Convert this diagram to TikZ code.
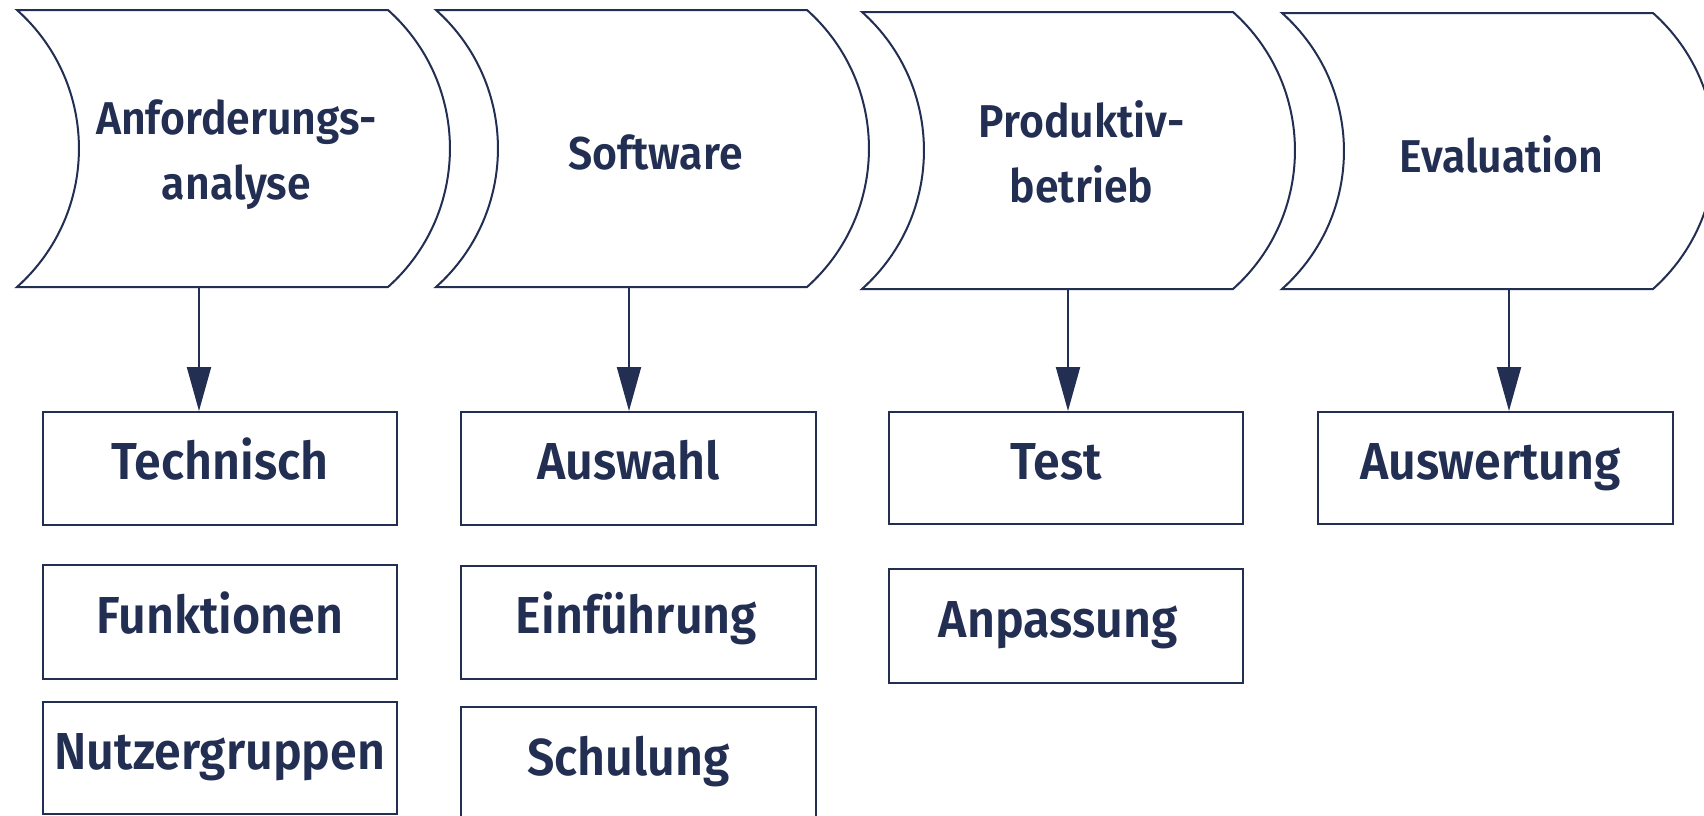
\documentclass[tikz,border=0pt]{standalone}
\usepackage{fontspec}
\setmainfont{Fira Sans SemiBold}[FakeStretch=0.93]
\usetikzlibrary{arrows.meta}
\definecolor{navy}{RGB}{34,46,82}
\newcommand\chevpath[3]{\draw[chevline] (#1,#2) -- (#1+371,#2) .. controls (#1+453.6,#2+73.8) and (#1+453.6,#3-73.8) .. (#1+371,#3) -- (#1,#3) .. controls (#1+82.6,#3-73.8) and (#1+82.6,#2+73.8) .. (#1,#2) -- cycle;}
\begin{document}
\begin{tikzpicture}[x=1pt,y=-1pt,
  every node/.style={text=navy},
  chevline/.style={draw=navy,line width=2pt,line join=miter},
  chevtext/.style={font=\fontsize{46}{65}\selectfont,align=center,inner sep=0pt},
  box/.style={draw=navy,line width=2pt,inner sep=0pt,font=\fontsize{52}{60}\selectfont,text height=36pt,text depth=14pt},
  lshift/.style={execute at end node={\hspace*{#1}}},
  arr/.style={draw=navy,line width=2pt,-{Triangle[length=44pt,width=24pt]}}]
\path[use as bounding box,fill=white] (0,0) rectangle (1704,815);
% chevrons
\chevpath{17}{10}{287}
\chevpath{436}{10}{287}
\chevpath{862}{12}{289}
\chevpath{1282}{13}{289}
\node[chevtext] (c1) at (236.5,154.5) {Anforderungs-\\analyse};
\node[chevtext] (c2) at (655.5,152.5) {Software};
\node[chevtext] (c3) at (1081.5,152) {Produktiv-\\betrieb};
\node[chevtext] (c4) at (1501.5,154.5) {Evaluation};
\coordinate (a1) at (199,287);
\coordinate (a2) at (629,287);
\coordinate (a3) at (1068,289);
\coordinate (a4) at (1509,289);
% boxes
\node[box,minimum width=354pt,minimum height=113pt] (t1) at (220,468.5) {Technisch};
\node[box,minimum width=354pt,minimum height=114pt] (t2) at (220,622) {Funktionen};
\node[box,minimum width=354pt,minimum height=112pt] (t3) at (220,758) {Nutzergruppen};
\node[box,lshift=20pt,minimum width=355pt,minimum height=113pt] (s1) at (638.5,468.5) {Auswahl};
\node[box,lshift=4pt,minimum width=355pt,minimum height=113pt] (s2) at (638.5,622.5) {Einführung};
\node[box,lshift=20pt,minimum width=355pt,minimum height=115pt] (s3) at (638.5,764.5) {Schulung};
\node[box,lshift=20pt,minimum width=354pt,minimum height=112pt] (p1) at (1066,468) {Test};
\node[box,lshift=16pt,minimum width=354pt,minimum height=114pt] (p2) at (1066,626) {Anpassung};
\node[box,lshift=10pt,minimum width=355pt,minimum height=112pt] (e1) at (1495.5,468) {Auswertung};
% arrows
\draw[arr] (a1) -- (a1 |- t1.north);
\draw[arr] (a2) -- (a2 |- s1.north);
\draw[arr] (a3) -- (a3 |- p1.north);
\draw[arr] (a4) -- (a4 |- e1.north);
\end{tikzpicture}
\end{document}
